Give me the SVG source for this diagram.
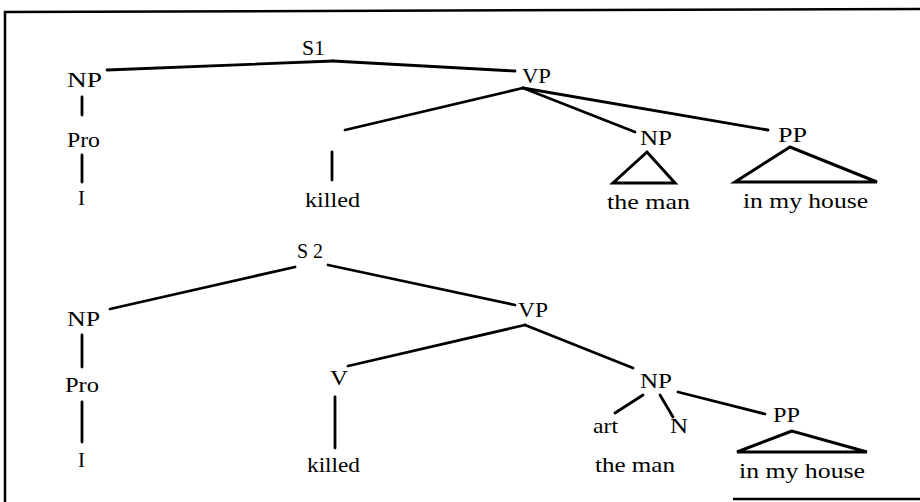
<svg xmlns="http://www.w3.org/2000/svg" width="920" height="502" viewBox="0 0 920 502">
<style>
text{font-family:"Liberation Serif","Times New Roman",serif;font-size:21px;fill:#000}
.e{stroke:#000;stroke-width:2.8;fill:none;stroke-linecap:round;stroke-linejoin:round}
.t{stroke:#000;stroke-width:3;fill:none;stroke-linejoin:miter}
.b{stroke:#000;stroke-width:2.5;fill:none}
</style>
<rect width="920" height="502" fill="#fff"/>
<g id="frame">
<path class="b" d="M5,502 V12 L920,9"/>
<line class="b" x1="733" y1="499" x2="920" y2="499"/>
</g>
<g id="connectors">
<line class="e" x1="333" y1="61" x2="107" y2="70"/>
<line class="e" x1="333" y1="61" x2="515" y2="71"/>
<line class="e" x1="82" y1="97" x2="82" y2="115"/>
<line class="e" x1="82" y1="155" x2="82" y2="182"/>
<line class="e" x1="523" y1="88" x2="345" y2="130"/>
<line class="e" x1="332" y1="152" x2="332" y2="180"/>
<line class="e" x1="523" y1="88" x2="635" y2="132"/>
<line class="e" x1="523" y1="88" x2="768" y2="130"/>
<polygon class="t" points="647,152 613,183 675,183"/>
<polygon class="t" points="790,147 735,182 877,182"/>
<line class="e" x1="295" y1="267" x2="110" y2="309"/>
<line class="e" x1="328" y1="265" x2="515" y2="305"/>
<line class="e" x1="82" y1="335" x2="82" y2="367"/>
<line class="e" x1="82" y1="402" x2="82" y2="442"/>
<line class="e" x1="525" y1="325" x2="348" y2="366"/>
<line class="e" x1="335" y1="397" x2="335" y2="448"/>
<line class="e" x1="525" y1="325" x2="633" y2="368"/>
<line class="e" x1="643" y1="395" x2="615" y2="413"/>
<line class="e" x1="660" y1="395" x2="673" y2="417"/>
<line class="e" x1="678" y1="392" x2="765" y2="414"/>
<polygon class="t" points="792,431 737,452 867,452"/>
</g>
<g id="t1-S1"><text x="302" y="55" textLength="23" lengthAdjust="spacingAndGlyphs">S1</text></g>
<g id="t1-NP"><text x="67" y="87" textLength="35" lengthAdjust="spacingAndGlyphs">NP</text></g>
<g id="t1-Pro"><text x="67" y="147" textLength="33" lengthAdjust="spacingAndGlyphs">Pro</text></g>
<g id="t1-I"><text x="78" y="205">I</text></g>
<g id="t1-killed"><text x="305" y="207" textLength="55" lengthAdjust="spacingAndGlyphs">killed</text></g>
<g id="t1-VP"><text x="522" y="83" textLength="29" lengthAdjust="spacingAndGlyphs">VP</text></g>
<g id="t1-NP2"><text x="640" y="145" textLength="32" lengthAdjust="spacingAndGlyphs">NP</text></g>
<g id="t1-PP"><text x="778" y="142" textLength="29" lengthAdjust="spacingAndGlyphs">PP</text></g>
<g id="t1-theman"><text x="607" y="209" textLength="83" lengthAdjust="spacingAndGlyphs">the man</text></g>
<g id="t1-house"><text x="743" y="208" textLength="125" lengthAdjust="spacingAndGlyphs">in my house</text></g>
<g id="t2-S2"><text x="297" y="258" textLength="26" lengthAdjust="spacingAndGlyphs">S 2</text></g>
<g id="t2-NP"><text x="67" y="326" textLength="33" lengthAdjust="spacingAndGlyphs">NP</text></g>
<g id="t2-Pro"><text x="65" y="392" textLength="34" lengthAdjust="spacingAndGlyphs">Pro</text></g>
<g id="t2-I"><text x="78" y="467">I</text></g>
<g id="t2-V"><text x="330" y="385" textLength="18" lengthAdjust="spacingAndGlyphs">V</text></g>
<g id="t2-killed"><text x="307" y="472" textLength="53" lengthAdjust="spacingAndGlyphs">killed</text></g>
<g id="t2-VP"><text x="518" y="317" textLength="30" lengthAdjust="spacingAndGlyphs">VP</text></g>
<g id="t2-NP2"><text x="640" y="388" textLength="32" lengthAdjust="spacingAndGlyphs">NP</text></g>
<g id="t2-art"><text x="593" y="433" textLength="25" lengthAdjust="spacingAndGlyphs">art</text></g>
<g id="t2-N"><text x="670" y="433" textLength="18" lengthAdjust="spacingAndGlyphs">N</text></g>
<g id="t2-PP"><text x="773" y="422" textLength="27" lengthAdjust="spacingAndGlyphs">PP</text></g>
<g id="t2-theman"><text x="595" y="472" textLength="80" lengthAdjust="spacingAndGlyphs">the man</text></g>
<g id="t2-house"><text x="739" y="478" textLength="126" lengthAdjust="spacingAndGlyphs">in my house</text></g>
</svg>
